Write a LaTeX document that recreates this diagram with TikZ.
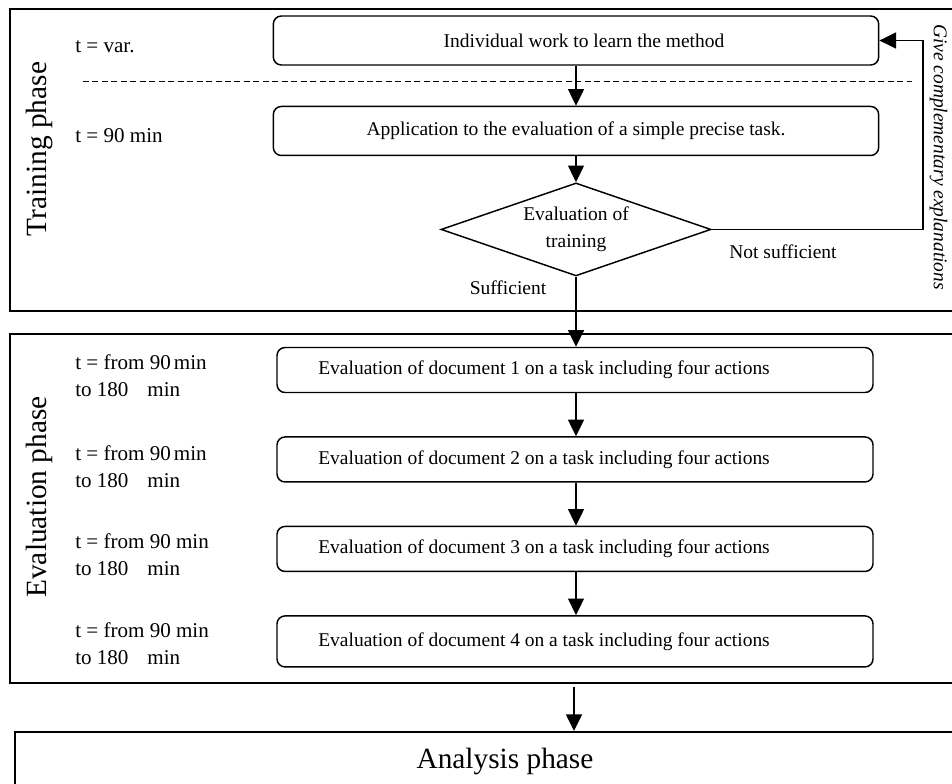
\documentclass[tikz,border=0pt]{standalone}
\usepackage{fontspec}
\setmainfont{Liberation Serif}
\usetikzlibrary{positioning, shapes.geometric, arrows.meta}

\begin{document}
\begin{tikzpicture}[
    x=0.75pt, y=-0.75pt,
    box/.style={
        rectangle,
        rounded corners=6pt,
        draw=black,
        line width=1.1pt,
        minimum width=454pt,
        minimum height=36.75pt,
        align=center,
        font=\fontsize{14.6}{17}\selectfont
    },
    evalbox/.style={
        box,
        minimum width=447pt,
        minimum height=33.75pt,
        text width=385pt,
        align=flush left,
        inner xsep=0pt
    },
    decision/.style={
        diamond,
        aspect=2.9,
        draw=black,
        line width=1.1pt,
        minimum width=202.5pt,
        minimum height=69.75pt,
        inner sep=1pt,
        align=center,
        font=\fontsize{14.6}{20.25}\selectfont
    },
    frame/.style={draw=black, line width=1.5pt},
    timelabel/.style={anchor=west, inner sep=0pt, align=left, font=\fontsize{15.8}{20.25}\selectfont},
    phase/.style={inner sep=0pt, font=\fontsize{22}{26}\selectfont},
    note/.style={inner sep=0pt, font=\fontsize{14.6}{17}\selectfont},
    arr/.style={-{Triangle[length=12.5pt, width=12pt]}, line width=1.1pt}
]

\useasboundingbox (0,0) rectangle (952,783);
\clip (0,0) rectangle (952,783);

% Phase frames
\draw[frame] (10,9) rectangle (980,311);
\draw[frame] (10,334) rectangle (980,683);

% Training phase
\node[phase, rotate=90] (trainphase) at (39,149) {Training phase};
\node[timelabel] (tvar) at (75,47) {t = var.};
\node[timelabel] (t90) at (75,136) {t = 90 min};

\node[box] (b1) at (576,40.5) {\hspace{12pt}Individual work to learn the method};
\draw[dashed, dash pattern=on 4.5pt off 2.6pt, line width=0.6pt] (83,81) -- (912,81);
\node[box, below=30pt of b1] (b2) {Application to the evaluation of a simple precise task.};
\node[decision, below=19.5pt of b2] (dec) {Evaluation of\\training};

\node[note] (notsuff) at (783,252) {Not sufficient};
\node[note] (suff) at (508,288) {Sufficient};
\node[note, rotate=-90, font=\fontsize{14.6}{17}\selectfont\itshape] (give) at (938.5,157) {Give complementary explanations};

\coordinate (fbx) at (923,0);
\draw[arr] (b1) -- (b2);
\draw[arr] (b2) -- (dec);
\draw[arr] (dec.east) -- (dec.east -| fbx) |- (b1.east);

% Evaluation phase
\node[phase, rotate=90] (evalphase) at (39,497) {Evaluation phase};

\node[evalbox] (e1) at (575,370) {Evaluation of document 1 on a task including four actions};
\node[evalbox, below=32.25pt of e1] (e2) {Evaluation of document 2 on a task including four actions};
\node[evalbox, below=32.25pt of e2] (e3) {Evaluation of document 3 on a task including four actions};
\node[evalbox, below=32.25pt of e3, minimum height=38.25pt] (e4) {Evaluation of document 4 on a task including four actions};

\node[timelabel] (t1) at (75,375.5) {t = from 90\hspace{0.15em}min\\to 180\hspace{0.9em}min};
\node[timelabel] (t2) at (75,467) {t = from 90\hspace{0.15em}min\\to 180\hspace{0.9em}min};
\node[timelabel] (t3) at (75,555) {t = from 90 min\\to 180\hspace{0.9em}min};
\node[timelabel] (t4) at (75,644) {t = from 90 min\\to 180\hspace{0.9em}min};

\draw[arr] (dec.south) -- (e1.north -| dec.south);
\draw[arr] (e1.south -| dec.south) -- (e2.north -| dec.south);
\draw[arr] (e2.south -| dec.south) -- (e3.north -| dec.south);
\draw[arr] (e3.south -| dec.south) -- (e4.north -| dec.south);

% Analysis phase
\node[frame, phase, anchor=north west, minimum width=735pt, minimum height=43.5pt] (analysis) at (14,731) {Analysis phase};
\coordinate (evalout) at (574,687);
\draw[arr] (evalout) -- (evalout |- analysis.north);

\end{tikzpicture}
\end{document}
